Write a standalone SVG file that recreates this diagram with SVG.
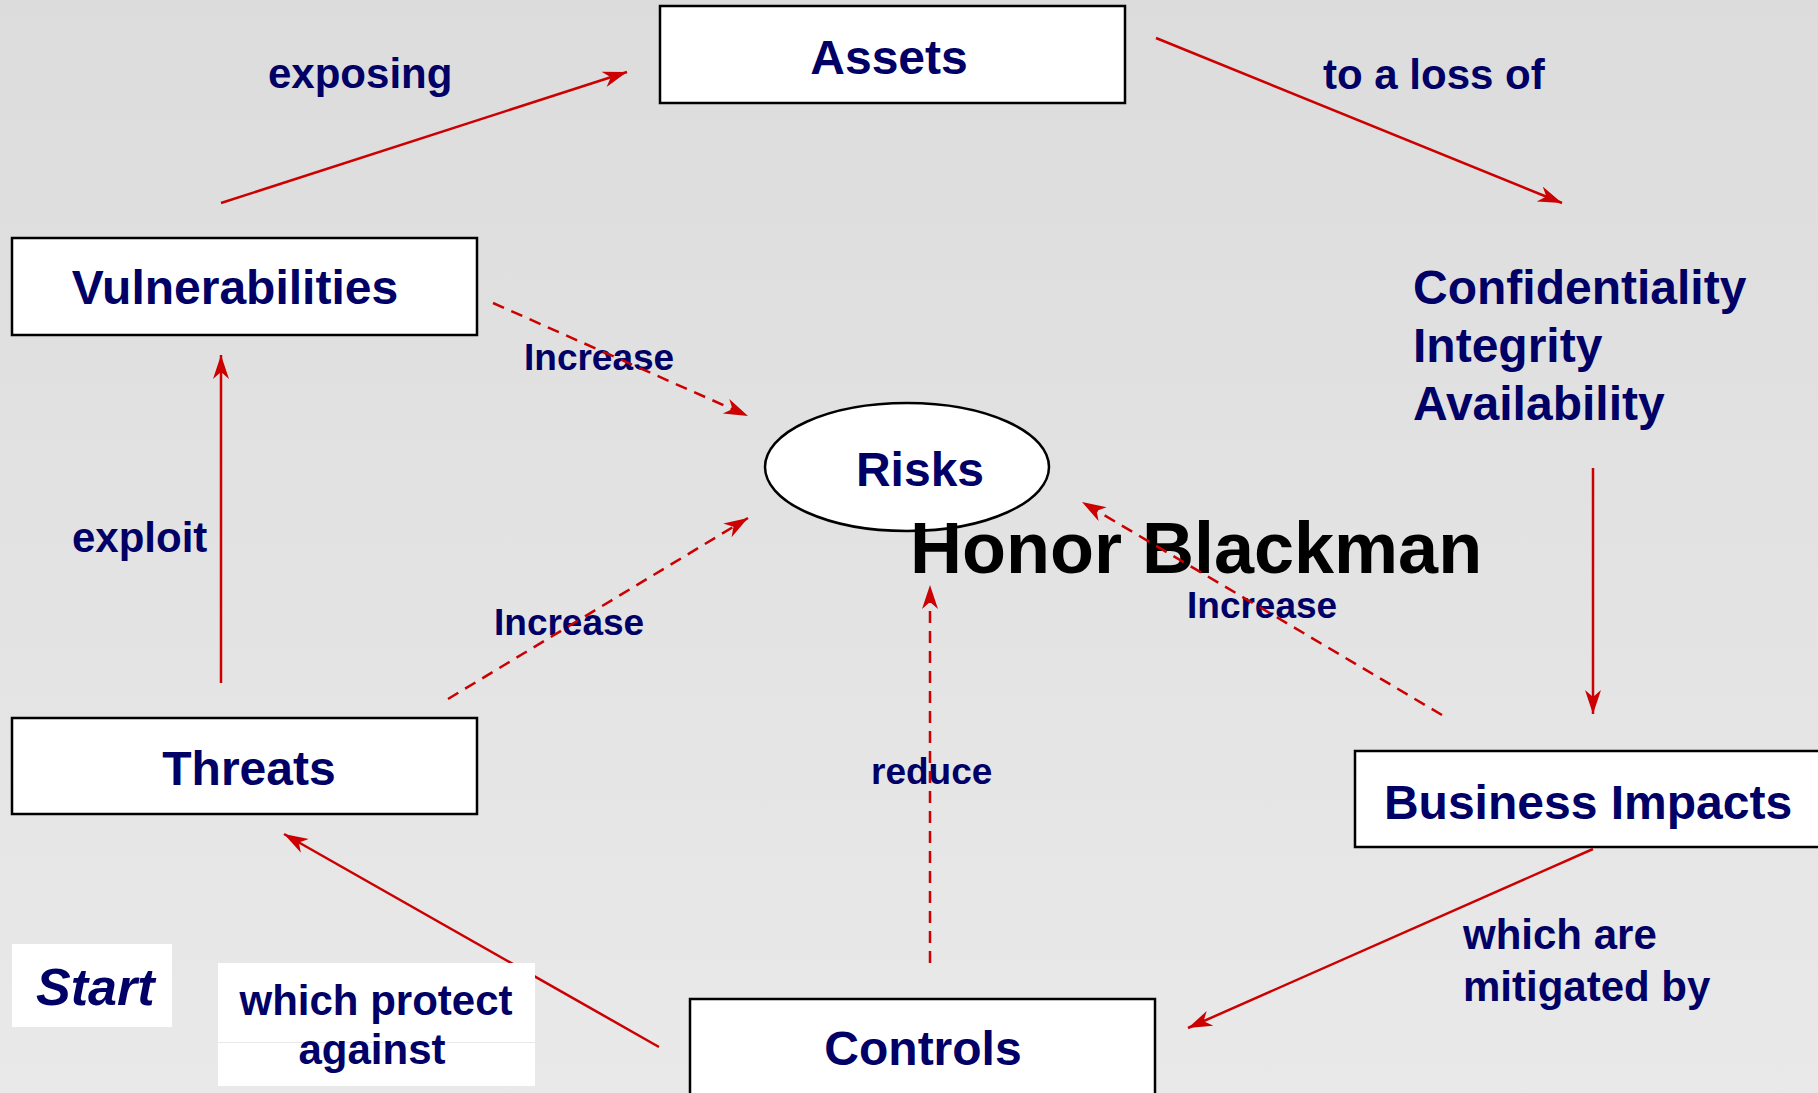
<svg xmlns="http://www.w3.org/2000/svg" width="1818" height="1093" viewBox="0 0 1818 1093">
  <defs>
    <linearGradient id="bg" x1="0" y1="0" x2="0" y2="1">
      <stop offset="0" stop-color="#dcdcdc"/>
      <stop offset="1" stop-color="#e9e9e9"/>
    </linearGradient>
    <marker id="arrow" markerUnits="userSpaceOnUse" markerWidth="26" markerHeight="18" refX="24" refY="8" orient="auto" viewBox="0 0 26 18">
      <path d="M0,0 L24,8 L0,16 L7,8 Z" fill="#cc0000"/>
    </marker>
    <style>
      .box { fill: #ffffff; stroke: #000000; stroke-width: 2.5; }
      .plain { fill: #ffffff; stroke: none; }
      .node { font-family: "Liberation Sans", Arial, sans-serif; font-weight: bold; font-size: 48px; fill: #000066; }
      .lbl { font-family: "Liberation Sans", Arial, sans-serif; font-weight: bold; font-size: 42px; fill: #000066; }
      .inc { font-family: "Liberation Sans", Arial, sans-serif; font-weight: bold; font-size: 37px; fill: #000066; }
      .solid { fill: none; stroke: #cc0000; stroke-width: 2.5; marker-end: url(#arrow); }
      .dash { fill: none; stroke: #cc0000; stroke-width: 2.5; stroke-dasharray: 12 8; marker-end: url(#arrow); }
    </style>
  </defs>

  <rect x="0" y="0" width="1818" height="1093" fill="url(#bg)"/>

  <!-- nodes -->
  <g id="assets">
    <rect class="box" x="660" y="6" width="465" height="97"/>
    <text class="node" x="889" y="74" text-anchor="middle">Assets</text>
  </g>
  <g id="vulnerabilities">
    <rect class="box" x="12" y="238" width="465" height="97"/>
    <text class="node" x="235" y="304" text-anchor="middle">Vulnerabilities</text>
  </g>
  <g id="threats">
    <rect class="box" x="12" y="718" width="465" height="96"/>
    <text class="node" x="249" y="785" text-anchor="middle">Threats</text>
  </g>
  <g id="business-impacts">
    <rect class="box" x="1355" y="751" width="470" height="96"/>
    <text class="node" x="1588" y="819" text-anchor="middle">Business Impacts</text>
  </g>
  <g id="controls">
    <rect class="box" x="690" y="999" width="465" height="100"/>
    <text class="node" x="923" y="1065" text-anchor="middle">Controls</text>
  </g>
  <g id="risks">
    <ellipse class="box" cx="907" cy="467" rx="142" ry="64"/>
    <text class="node" x="920" y="486" text-anchor="middle">Risks</text>
  </g>
  <g id="cia">
    <text class="node" x="1413" y="304">Confidentiality</text>
    <text class="node" x="1413" y="362">Integrity</text>
    <text class="node" x="1413" y="420">Availability</text>
  </g>

  <text x="910" y="573" font-family="Liberation Sans, Arial, sans-serif" font-weight="bold" font-size="72" fill="#000000">Honor Blackman</text>

  <!-- connector labels -->
  <g id="labels">
    <text class="lbl" x="268" y="88">exposing</text>
    <text class="lbl" x="1323" y="89">to a loss of</text>
    <text class="lbl" x="72" y="552">exploit</text>
    <text class="inc" x="524" y="370">Increase</text>
    <text class="inc" x="494" y="635">Increase</text>
    <text class="inc" x="1187" y="618">Increase</text>
    <text class="inc" x="871" y="784">reduce</text>
    <text class="lbl" x="1463" y="949">which are</text>
    <text class="lbl" x="1463" y="1001">mitigated by</text>
  </g>

  <!-- connectors -->
  <g id="connectors">
    <line class="solid" x1="221" y1="203" x2="627" y2="72"/>
    <line class="solid" x1="1156" y1="38" x2="1562" y2="203"/>
    <line class="solid" x1="1593" y1="468" x2="1593" y2="714"/>
    <line class="solid" x1="1593" y1="849" x2="1188" y2="1028"/>
    <line class="solid" x1="659" y1="1047" x2="284" y2="834"/>
    <line class="solid" x1="221" y1="683" x2="221" y2="355"/>
    <line class="dash" x1="493" y1="303" x2="748" y2="416"/>
    <line class="dash" x1="448" y1="699" x2="748" y2="518"/>
    <line class="dash" x1="930" y1="963" x2="930" y2="585"/>
    <line class="dash" x1="1442" y1="715" x2="1082" y2="502"/>
  </g>

  <g id="start">
    <rect class="plain" x="12" y="944" width="160" height="83"/>
    <text x="36" y="1005" font-family="Liberation Sans, Arial, sans-serif" font-weight="bold" font-style="italic" font-size="52" fill="#000066">Start</text>
  </g>
  <g id="protect-label">
    <rect class="plain" x="218" y="963" width="317" height="79"/>
    <rect class="plain" x="218" y="1043" width="317" height="43"/>
    <text class="lbl" x="376" y="1015" text-anchor="middle">which protect</text>
    <text class="lbl" x="372" y="1064" text-anchor="middle">against</text>
  </g>
</svg>
